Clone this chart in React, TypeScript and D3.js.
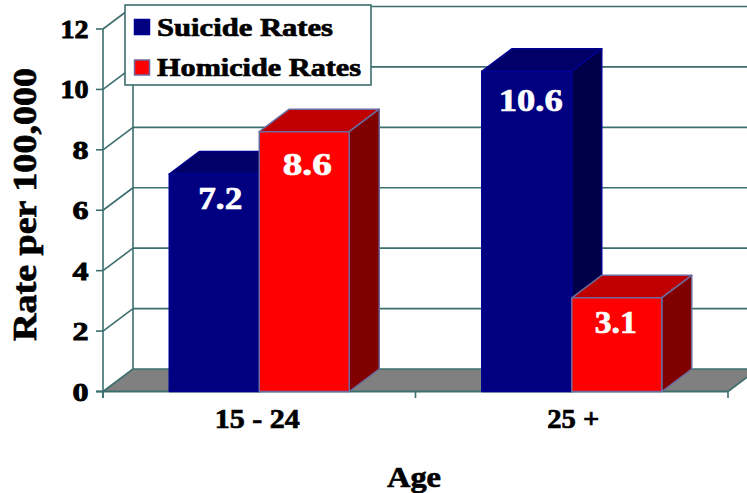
import React from "react";
import * as d3 from "d3";

const ageGroups = ["15 - 24", "25 +"];
const seriesNames = ["Suicide Rates", "Homicide Rates"];
const suicideRates = [7.2, 10.6];
const homicideRates = [8.6, 3.1];
const yTicks = [0, 2, 4, 6, 8, 10, 12];

const W = 747, H = 493;
const axisC = "#3d6e6e";
const FONT = "'Liberation Serif', serif";
const DX = 30, DY = 22.5;

const y = d3.scaleLinear().domain([0, 12]).range([391.5, 29]);
const x0 = d3.scaleBand().domain(ageGroups).range([103, 728]);
const x1 = d3.scaleBand().domain(seriesNames).range([0, 180]);
const inset = (x0.bandwidth() - 180) / 2;

const styles = [
  { front: "#000080", top: "#000068", side: "#000048", stroke: "#000090" },
  { front: "#ff0000", top: "#c00000", side: "#800000", stroke: "#6a6a9e" },
];

function T({ x, y, w, size = 24, fill = "#000", anchor = "middle", children, transform, sw = 0.7 }: any) {
  return (
    <text x={x} y={y} fontFamily={FONT} fontWeight="bold" fontSize={size} fill={fill}
      textAnchor={anchor} textLength={w} lengthAdjust="spacingAndGlyphs" transform={transform}
      stroke={fill} strokeWidth={sw}>
      {children}
    </text>
  );
}

function Bar({ xPos, value, st }: any) {
  const bw = x1.bandwidth();
  const t = y(value), b = y(0), r = xPos + bw;
  const line = d3.line();
  const poly = (p: [number, number][]) => line(p)! + "Z";
  const common = { stroke: st.stroke, strokeWidth: 1.5, strokeLinejoin: "round" as const };
  return (
    <g>
      <path d={poly([[xPos, t], [r, t], [r + DX, t - DY], [xPos + DX, t - DY]])} fill={st.top} {...common} />
      <path d={poly([[r, t], [r + DX, t - DY], [r + DX, b - DY], [r, b]])} fill={st.side} {...common} />
      <path d={poly([[xPos, t], [r, t], [r, b], [xPos, b]])} fill={st.front} {...common} />
    </g>
  );
}

const valueWidths: Record<string, number> = { "7.2": 44, "8.6": 49, "10.6": 64, "3.1": 42 };
const valueOffsets: Record<string, number> = { "7.2": 34.5, "8.6": 43, "10.6": 40, "3.1": 35.5 };
const valueShift: Record<string, number> = { "7.2": 6, "8.6": 3, "10.6": 4, "3.1": -1 };

export default function App() {
  const barsData = ageGroups.flatMap((g, i) => [
    { g, s: 0, v: suicideRates[i] },
    { g, s: 1, v: homicideRates[i] },
  ]);
  const xp = (d: any) => x0(d.g)! + inset + x1(seriesNames[d.s])!;
  const xTicks = [x0.range()[0], x0(ageGroups[1])!, x0.range()[1]];
  return (
    <svg width={W} height={H} style={{ position: "absolute", left: 0, top: 0, background: "#fff" }}>
      {/* floor */}
      <path d={`M103,${y(0)}L728,${y(0)}L${728 + DX},${y(0) - DY}L${103 + DX},${y(0) - DY}Z`} fill="#808080" />
      {/* walls and gridlines */}
      <line x1={103 + DX} x2={103 + DX} y1={y(12) - DY} y2={y(0) - DY} stroke={axisC} strokeWidth={1.6} />
      {yTicks.map((t) => (
        <g key={t}>
          <line x1={103 + DX} x2={W} y1={y(t) - DY} y2={y(t) - DY} stroke={axisC} strokeWidth={1.6} />
          <line x1={103} x2={103 + DX} y1={y(t)} y2={y(t) - DY} stroke={axisC} strokeWidth={1.6} />
          <line x1={96} x2={103} y1={y(t)} y2={y(t)} stroke={axisC} strokeWidth={1.6} />
          <T x={88.5} y={y(t) + 9} anchor="end" size={26} w={t >= 10 ? 28 : 16} sw={0.9}>{t}</T>
        </g>
      ))}
      <line x1={103} x2={103} y1={y(12)} y2={398} stroke={axisC} strokeWidth={1.6} />
      <line x1={96} x2={728} y1={y(0)} y2={y(0)} stroke={axisC} strokeWidth={1.8} />
      <line x1={728} x2={747} y1={y(0)} y2={y(0) - (19 * DY) / DX} stroke={axisC} strokeWidth={1.6} />
      {xTicks.map((t) => (
        <line key={t} x1={t} x2={t} y1={y(0)} y2={398} stroke={axisC} strokeWidth={1.6} />
      ))}
      {/* bars */}
      {barsData.map((d) => (
        <Bar key={d.g + d.s} xPos={xp(d)} value={d.v} st={styles[d.s]} />
      ))}
      {/* value labels */}
      {barsData.map((d) => (
        <T key={d.g + d.s} x={xp(d) + x1.bandwidth() / 2 + valueShift[String(d.v)]} y={y(d.v) + valueOffsets[String(d.v)]} size={31} fill="#fff"
          w={valueWidths[String(d.v)]}>
          {d.v.toFixed(1)}
        </T>
      ))}
      {/* legend */}
      <rect x={125} y={5} width={246} height={80} fill="#fff" stroke={axisC} strokeWidth={1.6} />
      {seriesNames.map((n, i) => (
        <g key={n}>
          <rect x={134.5} y={19.5 + i * 40.5} width={15} height={15} fill={styles[i].front} stroke={styles[i].stroke} strokeWidth={1.5} />
          <T x={157} y={36 + i * 40} anchor="start" size={25.5} w={i === 0 ? 176 : 204}>{n}</T>
        </g>
      ))}
      {/* category labels */}
      {ageGroups.map((g, i) => (
        <T key={g} x={x0(g)! + x0.bandwidth() / 2 + (i === 0 ? -2 : 1.5)} y={428} size={27} w={i === 0 ? 85 : 52} >{g}</T>
      ))}
      {/* axis titles */}
      <T x={414} y={487} size={30} w={54}>Age</T>
      <T x={0} y={0} size={33} w={273} transform="translate(36,204.5) rotate(-90)">Rate per 100,000</T>
    </svg>
  );
}
